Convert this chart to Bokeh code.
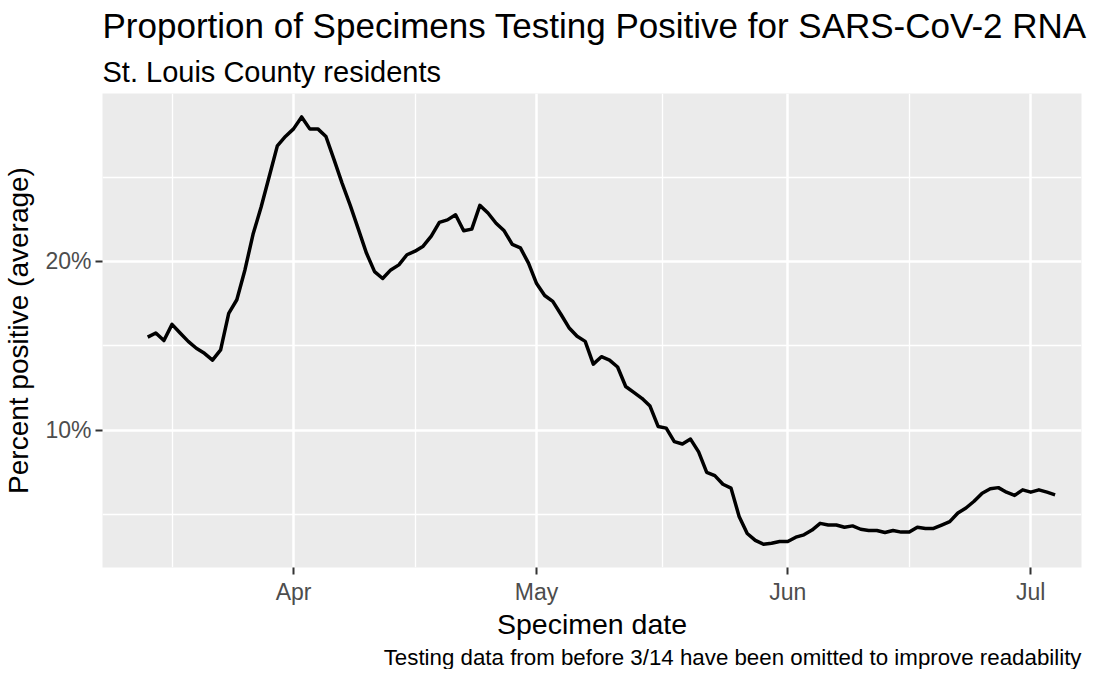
from datetime import datetime
import pandas as pd
from bokeh.plotting import figure
from bokeh.models import (Range1d, FixedTicker, PrintfTickFormatter, Title,
                          DatetimeTickFormatter, ColumnDataSource)
from bokeh.embed import file_html
from bokeh.resources import INLINE

# ---------------- data ----------------
start_date = "2020-03-14"
pct_positive = [
    15.51, 15.76, 15.31, 16.27, 15.76, 15.26, 14.85, 14.55, 14.15, 14.75,
    16.92, 17.73, 19.50, 21.61, 23.23, 25.04, 26.86, 27.42, 27.87, 28.58,
    27.87, 27.87, 27.42, 26.05, 24.64, 23.33, 21.92, 20.50, 19.40, 18.99,
    19.50, 19.80, 20.40, 20.61, 20.91, 21.51, 22.32, 22.47, 22.77, 21.82,
    21.92, 23.33, 22.88, 22.27, 21.82, 21.01, 20.81, 19.90, 18.69, 17.98,
    17.63, 16.87, 16.07, 15.56, 15.26, 13.91, 14.35, 14.15, 13.74, 12.58,
    12.23, 11.88, 11.42, 10.21, 10.11, 9.31, 9.17, 9.46, 8.70, 7.49,
    7.29, 6.78, 6.55, 4.87, 3.86, 3.45, 3.22, 3.28, 3.38, 3.38,
    3.64, 3.78, 4.06, 4.46, 4.36, 4.36, 4.23, 4.31, 4.11, 4.04,
    4.04, 3.92, 4.04, 3.94, 3.94, 4.23, 4.16, 4.16, 4.36, 4.56,
    5.07, 5.37, 5.77, 6.25, 6.51, 6.58, 6.31, 6.12, 6.45, 6.31,
    6.45, 6.31, 6.15,
]
x_tick_dates = ["2020-04-01", "2020-05-01", "2020-06-01", "2020-07-01"]
x_minor_dates = ["2020-03-17", "2020-04-16", "2020-05-16 12:00", "2020-06-16"]
y_ticks = [10, 20]
y_minor = [5, 15, 25]

title_text = "Proportion of Specimens Testing Positive for SARS-CoV-2 RNA"
subtitle_text = "St. Louis County residents"
caption_text = "Testing data from before 3/14 have been omitted to improve readability"
x_label = "Specimen date"
y_label = "Percent positive (average)"

dates = pd.date_range(start_date, periods=len(pct_positive), freq="D")
src = ColumnDataSource(dict(date=dates, pct=pct_positive))

def ms(s):
    return pd.Timestamp(s).value / 1e6

FONT = "Liberation Sans"

p = figure(x_axis_type="datetime", output_backend="svg", toolbar_location=None,
           frame_width=979, frame_height=474,
           x_range=Range1d(ms("2020-03-08 10:05"), ms("2020-07-07 06:15")),
           y_range=Range1d(1.84, 29.97),
           background_fill_color="#EBEBEB", border_fill_color="white",
           outline_line_color=None,
           min_border_left=96, min_border_right=6, min_border_top=89, min_border_bottom=92)

p.line("date", "pct", source=src, line_color="black", line_width=3.5, line_join="round")

# axes
p.xaxis.ticker = FixedTicker(ticks=[ms(d) for d in x_tick_dates],
                             minor_ticks=[ms(d) for d in x_minor_dates])
p.xaxis.formatter = DatetimeTickFormatter(days="%b", months="%b", years="%b", hours="%b")
p.yaxis.ticker = FixedTicker(ticks=y_ticks, minor_ticks=y_minor)
p.yaxis.formatter = PrintfTickFormatter(format="%d%%")

for ax in (p.xaxis[0], p.yaxis[0]):
    ax.axis_line_color = None
    ax.major_tick_line_color = "#333333"
    ax.major_tick_line_width = 2
    ax.major_tick_out = 7
    ax.major_tick_in = 0
    ax.minor_tick_line_color = None
    ax.major_label_text_font = FONT
    ax.major_label_text_font_size = "23px"
    ax.major_label_text_color = "#4D4D4D"
    ax.major_label_text_line_height = 1.0
    ax.axis_label_text_font = FONT
    ax.axis_label_text_font_style = "normal"
    ax.axis_label_text_color = "black"
    ax.axis_label_text_line_height = 1.0

p.xaxis.axis_label = x_label
p.yaxis.axis_label = y_label
p.xaxis.axis_label_text_font_size = "28.5px"
p.yaxis.axis_label_text_font_size = "28px"
p.xaxis.major_label_standoff = 4
p.yaxis.major_label_standoff = 4
p.xaxis.axis_label_standoff = 0
p.yaxis.axis_label_standoff = 8

# grid
for g in (p.xgrid[0], p.ygrid[0]):
    g.grid_line_color = "white"
    g.grid_line_width = 2.5
    g.minor_grid_line_color = "white"
    g.minor_grid_line_width = 1.3

# titles: main title outermost, subtitle next to the frame
p.title.text = title_text
p.title.text_font = FONT
p.title.text_font_size = "35px"
p.title.text_font_style = "normal"
p.title.text_color = "black"
p.title.text_line_height = 1.0
p.title.standoff = 6
p.add_layout(Title(text=subtitle_text, text_font=FONT, text_font_size="29px",
                   text_font_style="normal", text_color="black", text_line_height=1.0,
                   standoff=12), "above")
p.add_layout(Title(text=caption_text, text_font=FONT, text_font_size="22.3px",
                   text_font_style="normal", text_color="black", align="right",
                   text_line_height=1.0, standoff=0), "below")

open("out.html", "w").write(file_html(p, INLINE))
